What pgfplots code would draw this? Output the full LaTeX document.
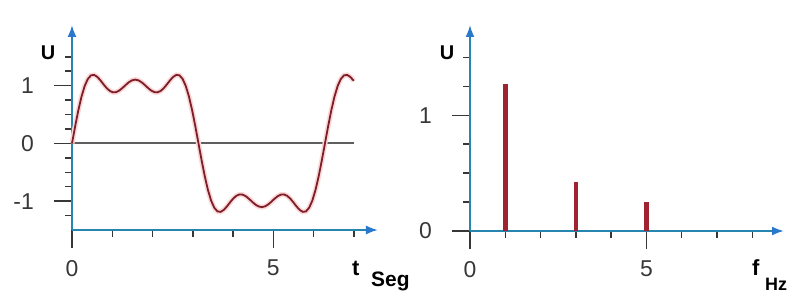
\documentclass[border=0pt]{standalone}
\usepackage{fontspec}
\setmainfont{Liberation Sans}
\usepackage{pgfplots}
\pgfplotsset{compat=1.18}
\usetikzlibrary{arrows.meta}
\definecolor{axisblue}{RGB}{38,134,176}
\definecolor{arrowblue}{RGB}{40,120,205}
\definecolor{curvered}{RGB}{125,30,40}
\definecolor{halopink}{RGB}{250,215,215}
\definecolor{barred}{RGB}{160,35,50}
\definecolor{tickgray}{RGB}{55,55,55}
\definecolor{zerogray}{RGB}{95,95,95}
\pgfplotsset{
 myaxis/.style={
  scale only axis,
  axis lines=left,
  axis line style={draw=axisblue, line width=2bp, -{Latex[length=12bp,width=9bp,color=arrowblue]}},
  tick align=outside,
  major tick length=18bp,
  minor tick length=7bp,
  tick style={draw=tickgray, line width=1.5bp},
  /pgf/number format/assume math mode=true,
  tick label style={font=\fontsize{23}{23}\selectfont, text=tickgray, inner sep=0pt},
  xticklabel style={yshift=-12bp},
  yticklabel style={xshift=-20bp},
  clip=false,
 }
}
\begin{document}
\begin{tikzpicture}
\begin{axis}[myaxis, at={(0bp,0bp)}, anchor=south west,
  width=306bp, height=205bp,
  xmin=0, xmax=7.6, ymin=-1.5, ymax=2.05,
  xtick={0,5}, minor xtick={1,2,3,4,6,7},
  ytick={-1,0,1}, yticklabels={-1,0,1},
  minor ytick={-1.25,-0.75,-0.5,-0.25,0.25,0.5,0.75,1.25,1.5}]
\addplot[draw=zerogray, line width=2.2bp] coordinates {(0,0) (7,0)};
\addplot[draw=curvered, line width=1.8bp, preaction={draw=halopink, line width=5bp}] coordinates {
(0,0) (0.0785,0.2964) (0.1571,0.5719) (0.2356,0.8081) (0.3142,0.9915) (0.3927,1.1146)
(0.4712,1.1773) (0.5498,1.1858) (0.6283,1.1520) (0.7069,1.0913) (0.7854,1.0204)
(0.8639,0.9547) (0.9425,0.9066) (1.0210,0.8837) (1.0996,0.8880) (1.1781,0.9165)
(1.2566,0.9615) (1.3352,1.0128) (1.4137,1.0595) (1.4923,1.0919) (1.5708,1.1035)
(1.6493,1.0919) (1.7279,1.0595) (1.8064,1.0128) (1.8850,0.9615) (1.9635,0.9165)
(2.0420,0.8880) (2.1206,0.8837) (2.1991,0.9066) (2.2777,0.9547) (2.3562,1.0204)
(2.4347,1.0913) (2.5133,1.1520) (2.5918,1.1858) (2.6704,1.1773) (2.7489,1.1146)
(2.8274,0.9915) (2.9060,0.8081) (2.9845,0.5719) (3.0631,0.2964) (3.1416,0)
(3.2201,-0.2964) (3.2987,-0.5719) (3.3772,-0.8081) (3.4558,-0.9915) (3.5343,-1.1146)
(3.6128,-1.1773) (3.6914,-1.1858) (3.7699,-1.1520) (3.8485,-1.0913) (3.9270,-1.0204)
(4.0055,-0.9547) (4.0841,-0.9066) (4.1626,-0.8837) (4.2412,-0.8880) (4.3197,-0.9165)
(4.3982,-0.9615) (4.4768,-1.0128) (4.5553,-1.0595) (4.6338,-1.0919) (4.7124,-1.1035)
(4.7909,-1.0919) (4.8695,-1.0595) (4.9480,-1.0128) (5.0265,-0.9615) (5.1051,-0.9165)
(5.1836,-0.8880) (5.2622,-0.8837) (5.3407,-0.9066) (5.4192,-0.9547) (5.4978,-1.0204)
(5.5763,-1.0913) (5.6549,-1.1520) (5.7334,-1.1858) (5.8119,-1.1773) (5.8905,-1.1146)
(5.9690,-0.9915) (6.0476,-0.8081) (6.1261,-0.5719) (6.2046,-0.2964) (6.2832,0)
(6.3617,0.2964) (6.4403,0.5719) (6.5188,0.8081) (6.5973,0.9915) (6.6759,1.1146)
(6.7544,1.1773) (6.8330,1.1858) (6.9115,1.1520) (6.9900,1.0913) (7.0,1.0826)
};
\end{axis}
\begin{axis}[myaxis, at={(398bp,-1bp)}, anchor=south west,
  width=314bp, height=206bp,
  xmin=0, xmax=8.9, ymin=0, ymax=1.78,
  xtick={0,5}, minor xtick={1,2,3,4,6,7,8},
  ytick={0,1}, minor ytick={0.25,0.5,0.75,1.25,1.5}]
\addplot[ycomb, draw=barred, line width=4.5bp] coordinates {(1,1.27) (3,0.425) (5,0.25)};
\end{axis}
\node[inner sep=0pt, font=\fontsize{20}{20}\selectfont\bfseries] at (-24bp,177bp) {U};
\node[inner sep=0pt, font=\fontsize{20}{20}\selectfont\bfseries] at (375bp,177bp) {U};
\node[anchor=base west, inner sep=0pt, font=\fontsize{22}{22}\selectfont\bfseries] at (280bp,-45bp) {t};
\node[anchor=base west, inner sep=0pt, font=\fontsize{21}{21}\selectfont\bfseries] at (299bp,-56bp) {Seg};
\node[anchor=base west, inner sep=0pt, font=\fontsize{22}{22}\selectfont\bfseries] at (680bp,-45bp) {f};
\node[anchor=base west, inner sep=0pt, font=\fontsize{18}{18}\selectfont\bfseries] at (693bp,-60bp) {Hz};
\pgfresetboundingbox
\path[use as bounding box] (-72bp,-63bp) rectangle (715bp,230bp);
\end{tikzpicture}
\end{document}
